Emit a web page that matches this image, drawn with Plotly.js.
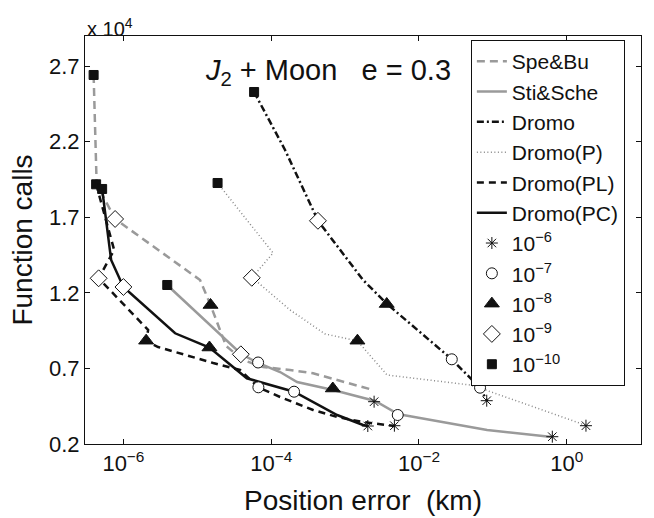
<!DOCTYPE html>
<html><head><meta charset="utf-8">
<script src="https://cdn.plot.ly/plotly-3.0.1.min.js"></script>
<style>html,body{margin:0;padding:0;background:#fff}#chart{width:654px;height:518px}</style>
</head><body><div id="chart"></div>
<script>
// Series names (legend order)
const seriesNames = ["Spe&Bu", "Sti&Sche", "Dromo", "Dromo(P)", "Dromo(PL)", "Dromo(PC)"];

// Line vertices: position error (km) and function calls
const speBuX = [3.95e-7, 4.34e-7, 7.72e-7, 1.09e-5, 1.51e-5, 2.45e-5, 4.17e-5, 7.76e-5, 1.80e-4, 3.69e-4, 2.39e-3];
const speBuY = [26420, 19207, 16891, 12854, 11199, 8486, 7559, 7096, 6897, 6679, 5574];

const stiScheX = [3.90e-6, 1.64e-5, 3.92e-5, 6.65e-5, 1.32e-4, 2.24e-4, 6.89e-4, 2.55e-3, 5.21e-3, 6.10e-3, 8.36e-2, 0.632];
const stiScheY = [12523, 9677, 7956, 7361, 6765, 6103, 5574, 4846, 3985, 3919, 2927, 2463];

const dromoX = [5.87e-5, 1.54e-4, 4.32e-4, 1.75e-3, 3.70e-3, 2.78e-2, 6.71e-2, 8.36e-2];
const dromoY = [25295, 21457, 16758, 12854, 11265, 7605, 5706, 4846];

const dromoPX = [1.88e-5, 1.06e-4, 5.52e-5, 1.80e-4, 5.36e-4, 1.47e-3, 3.70e-3, 4.91e-2, 6.71e-2, 1.87];
const dromoPY = [19273, 14640, 13019, 10868, 9280, 8817, 6566, 5905, 5706, 3211];

const dromoPLX = [4.27e-7, 7.49e-7, 4.62e-7, 2.16e-6, 2.03e-6, 2.95e-6, 1.64e-5, 3.79e-5, 6.71e-5, 1.32e-4, 3.69e-4, 7.80e-4, 1.75e-3, 4.65e-3];
const dromoPLY = [19207, 14839, 12966, 9545, 8817, 8419, 7361, 6897, 5752, 5110, 4250, 3787, 3456, 3191];

const dromoPCX = [5.15e-7, 6.82e-7, 1.0e-6, 5.01e-6, 1.46e-5, 4.68e-5, 2.04e-4, 7.80e-4, 1.75e-3, 2.03e-3];
const dromoPCY = [18876, 14177, 12390, 9326, 8386, 6348, 5461, 3919, 3257, 3191];

// Tolerance markers, one value per series (order of seriesNames)
const tolLabels = ["10<sup>\u22126</sup>", "10<sup>\u22127</sup>", "10<sup>\u22128</sup>", "10<sup>\u22129</sup>", "10<sup>\u221210</sup>"];
const tol6X  = [2.47e-3, 0.638, 8.26e-2, 1.82, 4.65e-3, 2.03e-3];
const tol6Y  = [4799, 2483, 4866, 3211, 3211, 3191];
const tol7X  = [6.65e-5, 5.16e-3, 2.78e-2, 6.71e-2, 6.71e-5, 2.04e-4];
const tol7Y  = [7394, 3919, 7605, 5726, 5752, 5461];
const tol8X  = [1.51e-5, 6.82e-4, 3.66e-3, 1.47e-3, 2.03e-6, 1.46e-5];
const tol8Y  = [11199, 5673, 11265, 8836, 8836, 8386];
const tol9X  = [7.72e-7, 3.88e-5, 4.29e-4, 5.46e-5, 4.62e-7, 1.0e-6];
const tol9Y  = [16891, 7936, 16771, 12999, 12966, 12390];
const tol10X = [3.95e-7, 3.92e-6, 5.87e-5, 1.88e-5, 4.27e-7, 5.15e-7];
const tol10Y = [26420, 12523, 25295, 19273, 19187, 18876];

// Axis ticks
const xTickVals = [1e-6, 1e-4, 1e-2, 1];
const xTickText = ["10<sup>\u22126</sup>", "10<sup>\u22124</sup>", "10<sup>\u22122</sup>", "10<sup>0</sup>"];
const yTickVals = [2000, 7000, 12000, 17000, 22000, 27000];
const yTickText = ["0.2", "0.7", "1.2", "1.7", "2.2", "2.7"];

const FONT = "Liberation Sans, Arial, Helvetica, sans-serif";
const GRAY = "#9a9a9a";

const lineData = [
  [speBuX, speBuY, {color: GRAY, width: 2.5, dash: "8px,5px"}],
  [stiScheX, stiScheY, {color: GRAY, width: 2.5, dash: "solid"}],
  [dromoX, dromoY, {color: "#111", width: 2.5, dash: "7px,3px,2px,3px"}],
  [dromoPX, dromoPY, {color: "#888", width: 1.5, dash: "1px,2.5px"}],
  [dromoPLX, dromoPLY, {color: "#111", width: 2.5, dash: "7px,5px"}],
  [dromoPCX, dromoPCY, {color: "#111", width: 2.5, dash: "solid"}]
];

const traces = lineData.map((d, i) => ({
  type: "scatter", mode: "lines", name: seriesNames[i],
  x: d[0], y: d[1], line: d[2], hoverinfo: "skip"
}));

const markerSets = [
  [tol6X, tol6Y, {symbol: "asterisk-open", size: 10, color: "#111", line: {color: "#111", width: 1}}],
  [tol7X, tol7Y, {symbol: "circle", size: 11, color: "#fff", line: {color: "#111", width: 1}}],
  [tol8X, tol8Y, {symbol: "triangle-up", size: 13, color: "#111", line: {color: "#111", width: 1}}],
  [tol9X, tol9Y, {symbol: "diamond", size: 13, color: "#fff", line: {color: "#111", width: 1}}],
  [tol10X, tol10Y, {symbol: "square", size: 9, color: "#111", line: {color: "#111", width: 1}}]
];
markerSets.forEach((m, i) => traces.push({
  type: "scatter", mode: "markers", name: tolLabels[i],
  x: m[0], y: m[1], marker: m[2], hoverinfo: "skip"
}));

const layout = {
  width: 654, height: 518,
  margin: {l: 85, r: 13, t: 36, b: 74, pad: 0},
  paper_bgcolor: "#fff", plot_bgcolor: "#fff",
  font: {family: FONT, size: 22, color: "#111"},
  showlegend: true,
  legend: {
    x: 0.694, y: 0.99, xanchor: "left", yanchor: "top",
    bgcolor: "#fff", bordercolor: "#111", borderwidth: 1,
    font: {family: FONT, size: 21, color: "#111"},
    tracegroupgap: 0,
    entrywidth: 160, entrywidthmode: "pixels"
  },
  xaxis: {
    type: "log", range: [-6.52, 1.005],
    tickvals: xTickVals, ticktext: xTickText,
    ticks: "inside", ticklen: 5, tickcolor: "#111",
    showline: true, linecolor: "#111", linewidth: 1, mirror: "ticks",
    showgrid: false, zeroline: false,
    tickfont: {family: FONT, size: 22, color: "#111"},
    title: {text: "Position error\u00a0\u00a0(km)", font: {family: FONT, size: 28, color: "#111"}, standoff: 14}
  },
  yaxis: {
    range: [2000, 29000],
    tickvals: yTickVals, ticktext: yTickText,
    ticks: "inside", ticklen: 5, tickcolor: "#111",
    showline: true, linecolor: "#111", linewidth: 1, mirror: "ticks",
    showgrid: false, zeroline: false,
    tickfont: {family: FONT, size: 22, color: "#111"},
    title: {text: "Function calls", font: {family: FONT, size: 28, color: "#111"}, standoff: 8}
  },
  annotations: [
    {xref: "paper", yref: "paper", x: 0.212, y: 0.912, xanchor: "left", yanchor: "middle",
     text: "<i>J</i><sub>2</sub> + Moon\u00a0\u00a0\u00a0e = 0.3", showarrow: false,
     font: {family: FONT, size: 29, color: "#111"}},
    {xref: "paper", yref: "paper", x: 0, y: 1, xanchor: "left", yanchor: "bottom",
     text: "x 10<sup>4</sup>", showarrow: false, yshift: -6,
     font: {family: FONT, size: 20, color: "#111"}}
  ]
};

Plotly.newPlot("chart", traces, layout, {displayModeBar: false, staticPlot: true});
</script>
</body></html>
